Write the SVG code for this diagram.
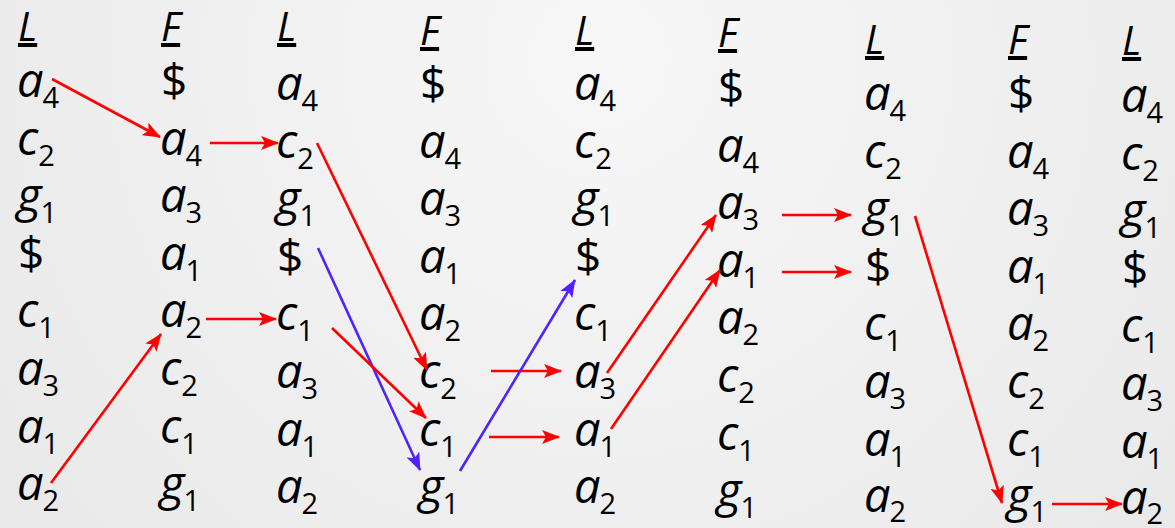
<svg xmlns="http://www.w3.org/2000/svg" width="1175" height="528" viewBox="0 0 1175 528">
<defs>
<radialGradient id="bg" cx="600" cy="60" r="750" gradientUnits="userSpaceOnUse">
<stop offset="0" stop-color="#f7f7f7"/>
<stop offset="1" stop-color="#e9e9e9"/>
</radialGradient>
<marker id="ar" markerUnits="userSpaceOnUse" markerWidth="18" markerHeight="14" viewBox="0 0 18 14" refX="17" refY="7" orient="auto">
<path d="M0,0 L18,7 L0,14 L4,7 z" fill="#ff0000"/>
</marker>
<marker id="ab" markerUnits="userSpaceOnUse" markerWidth="18" markerHeight="14" viewBox="0 0 18 14" refX="17" refY="7" orient="auto">
<path d="M0,0 L18,7 L0,14 L4,7 z" fill="#5022ff"/>
</marker>
</defs>
<style>
text{font-family:"Open Sans","Noto Sans",sans-serif;font-style:italic;font-size:47px;fill:#000}
.h{font-size:40px;text-decoration:underline}
.s{font-size:29px;font-style:normal}
.d{font-style:normal;font-size:46px}
.r{stroke:#ff0000;stroke-width:2.6;fill:none;marker-end:url(#ar)}
.b{stroke:#5022ff;stroke-width:2.6;fill:none;marker-end:url(#ab)}
</style>
<rect width="1175" height="528" fill="url(#bg)"/>

<g id="col1">
<text class="h" x="18" y="41">L</text>
<text x="17" y="97">a<tspan class="s" dy="11" dx="-1">4</tspan></text>
<text x="17" y="154.6">c<tspan class="s" dy="11" dx="0">2</tspan></text>
<text x="17" y="212.2">g<tspan class="s" dy="11" dx="-1">1</tspan></text>
<text class="d" x="18" y="269.8">$</text>
<text x="17" y="327.4">c<tspan class="s" dy="11" dx="0">1</tspan></text>
<text x="17" y="385">a<tspan class="s" dy="11" dx="-1">3</tspan></text>
<text x="17" y="442.6">a<tspan class="s" dy="11" dx="-1">1</tspan></text>
<text x="17" y="500.2">a<tspan class="s" dy="11" dx="-1">2</tspan></text>
</g>

<g id="col2">
<text class="h" x="161" y="41">F</text>
<text class="d" x="161" y="97">$</text>
<text x="160" y="154.6">a<tspan class="s" dy="11" dx="-1">4</tspan></text>
<text x="160" y="212.2">a<tspan class="s" dy="11" dx="-1">3</tspan></text>
<text x="160" y="269.8">a<tspan class="s" dy="11" dx="-1">1</tspan></text>
<text x="160" y="327.4">a<tspan class="s" dy="11" dx="-1">2</tspan></text>
<text x="160" y="385">c<tspan class="s" dy="11" dx="0">2</tspan></text>
<text x="160" y="442.6">c<tspan class="s" dy="11" dx="0">1</tspan></text>
<text x="160" y="500.2">g<tspan class="s" dy="11" dx="-1">1</tspan></text>
</g>

<g id="col3">
<text class="h" x="277" y="41">L</text>
<text x="276" y="100">a<tspan class="s" dy="11" dx="-1">4</tspan></text>
<text x="276" y="157.6">c<tspan class="s" dy="11" dx="0">2</tspan></text>
<text x="276" y="215.2">g<tspan class="s" dy="11" dx="-1">1</tspan></text>
<text class="d" x="277" y="272.8">$</text>
<text x="276" y="330.4">c<tspan class="s" dy="11" dx="0">1</tspan></text>
<text x="276" y="388">a<tspan class="s" dy="11" dx="-1">3</tspan></text>
<text x="276" y="445.6">a<tspan class="s" dy="11" dx="-1">1</tspan></text>
<text x="276" y="503.2">a<tspan class="s" dy="11" dx="-1">2</tspan></text>
</g>

<g id="col4">
<text class="h" x="420" y="45">F</text>
<text class="d" x="420" y="100">$</text>
<text x="419" y="157.6">a<tspan class="s" dy="11" dx="-1">4</tspan></text>
<text x="419" y="215.2">a<tspan class="s" dy="11" dx="-1">3</tspan></text>
<text x="419" y="272.8">a<tspan class="s" dy="11" dx="-1">1</tspan></text>
<text x="419" y="330.4">a<tspan class="s" dy="11" dx="-1">2</tspan></text>
<text x="419" y="388">c<tspan class="s" dy="11" dx="0">2</tspan></text>
<text x="419" y="445.6">c<tspan class="s" dy="11" dx="0">1</tspan></text>
<text x="419" y="503.2">g<tspan class="s" dy="11" dx="-1">1</tspan></text>
</g>

<g id="col5">
<text class="h" x="575" y="45">L</text>
<text x="574" y="100">a<tspan class="s" dy="11" dx="-1">4</tspan></text>
<text x="574" y="157.6">c<tspan class="s" dy="11" dx="0">2</tspan></text>
<text x="574" y="215.2">g<tspan class="s" dy="11" dx="-1">1</tspan></text>
<text class="d" x="575" y="272.8">$</text>
<text x="574" y="330.4">c<tspan class="s" dy="11" dx="0">1</tspan></text>
<text x="574" y="388">a<tspan class="s" dy="11" dx="-1">3</tspan></text>
<text x="574" y="445.6">a<tspan class="s" dy="11" dx="-1">1</tspan></text>
<text x="574" y="503.2">a<tspan class="s" dy="11" dx="-1">2</tspan></text>
</g>

<g id="col6">
<text class="h" x="718" y="47">F</text>
<text class="d" x="718" y="104">$</text>
<text x="717" y="161.6">a<tspan class="s" dy="11" dx="-1">4</tspan></text>
<text x="717" y="219.2">a<tspan class="s" dy="11" dx="-1">3</tspan></text>
<text x="717" y="276.8">a<tspan class="s" dy="11" dx="-1">1</tspan></text>
<text x="717" y="334.4">a<tspan class="s" dy="11" dx="-1">2</tspan></text>
<text x="717" y="392">c<tspan class="s" dy="11" dx="0">2</tspan></text>
<text x="717" y="449.6">c<tspan class="s" dy="11" dx="0">1</tspan></text>
<text x="717" y="507.2">g<tspan class="s" dy="11" dx="-1">1</tspan></text>
</g>

<g id="col7">
<text class="h" x="865" y="54">L</text>
<text x="864" y="110">a<tspan class="s" dy="11" dx="-1">4</tspan></text>
<text x="864" y="167.6">c<tspan class="s" dy="11" dx="0">2</tspan></text>
<text x="864" y="225.2">g<tspan class="s" dy="11" dx="-1">1</tspan></text>
<text class="d" x="865" y="282.8">$</text>
<text x="864" y="340.4">c<tspan class="s" dy="11" dx="0">1</tspan></text>
<text x="864" y="398">a<tspan class="s" dy="11" dx="-1">3</tspan></text>
<text x="864" y="455.6">a<tspan class="s" dy="11" dx="-1">1</tspan></text>
<text x="864" y="512">a<tspan class="s" dy="10" dx="-1">2</tspan></text>
</g>

<g id="col8">
<text class="h" x="1008" y="54">F</text>
<text class="d" x="1008" y="110">$</text>
<text x="1007" y="167.6">a<tspan class="s" dy="11" dx="-1">4</tspan></text>
<text x="1007" y="225.2">a<tspan class="s" dy="11" dx="-1">3</tspan></text>
<text x="1007" y="282.8">a<tspan class="s" dy="11" dx="-1">1</tspan></text>
<text x="1007" y="340.4">a<tspan class="s" dy="11" dx="-1">2</tspan></text>
<text x="1007" y="398">c<tspan class="s" dy="11" dx="0">2</tspan></text>
<text x="1007" y="455.6">c<tspan class="s" dy="11" dx="0">1</tspan></text>
<text x="1007" y="512">g<tspan class="s" dy="10" dx="-1">1</tspan></text>
</g>

<g id="col9">
<text class="h" x="1122" y="55">L</text>
<text x="1121" y="112">a<tspan class="s" dy="11" dx="-1">4</tspan></text>
<text x="1121" y="169.6">c<tspan class="s" dy="11" dx="0">2</tspan></text>
<text x="1121" y="227.2">g<tspan class="s" dy="11" dx="-1">1</tspan></text>
<text class="d" x="1122" y="284.8">$</text>
<text x="1121" y="342.4">c<tspan class="s" dy="11" dx="0">1</tspan></text>
<text x="1121" y="400">a<tspan class="s" dy="11" dx="-1">3</tspan></text>
<text x="1121" y="457.6">a<tspan class="s" dy="11" dx="-1">1</tspan></text>
<text x="1121" y="514">a<tspan class="s" dy="10" dx="-1">2</tspan></text>
</g>

<g id="connectors">
<line class="r" x1="52" y1="79" x2="160" y2="137"/>
<line class="r" x1="210" y1="143" x2="278" y2="143"/>
<line class="r" x1="317" y1="143" x2="427" y2="370"/>
<line class="b" x1="318" y1="248" x2="420" y2="470"/>
<line class="r" x1="206" y1="319" x2="276" y2="319"/>
<line class="r" x1="51" y1="483" x2="161" y2="334"/>
<line class="r" x1="332" y1="328" x2="426" y2="418"/>
<line class="r" x1="491" y1="371" x2="561" y2="371"/>
<line class="r" x1="489" y1="437" x2="559" y2="437"/>
<line class="b" x1="460" y1="471" x2="575" y2="280"/>
<line class="r" x1="607" y1="373" x2="716" y2="215"/>
<line class="r" x1="611" y1="429" x2="720" y2="270"/>
<line class="r" x1="782" y1="215" x2="851" y2="215"/>
<line class="r" x1="782" y1="272" x2="851" y2="272"/>
<line class="r" x1="915" y1="216" x2="1002" y2="503"/>
<line class="r" x1="1052" y1="504" x2="1122" y2="504"/>
</g>
</svg>
